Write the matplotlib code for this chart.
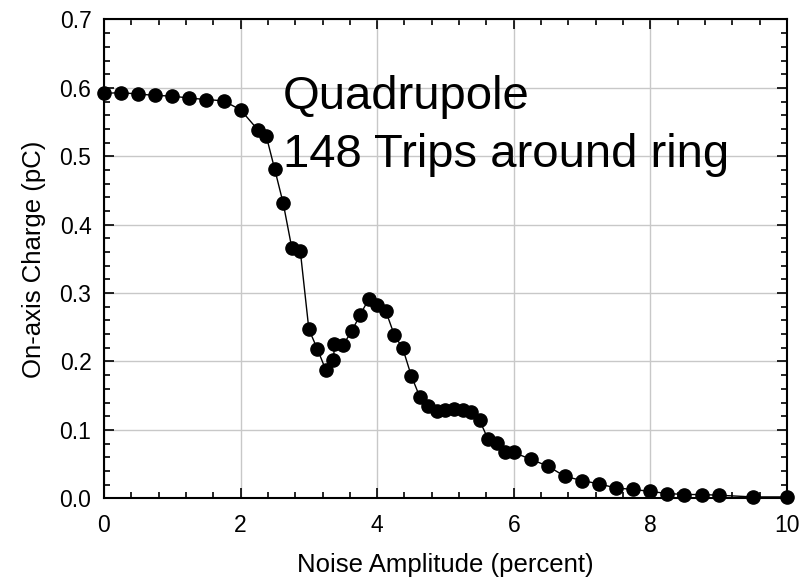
import matplotlib
matplotlib.use("Agg")
import matplotlib.pyplot as plt
from matplotlib.ticker import MultipleLocator

plt.rcParams['font.family'] = ['Liberation Sans', 'DejaVu Sans']

noise = [0.0, 0.25, 0.5, 0.75, 1.0, 1.25, 1.5, 1.75, 2.0,
         2.25, 2.375, 2.5, 2.625, 2.75, 2.875, 3.0, 3.125, 3.25, 3.36, 3.375,
         3.5, 3.625, 3.75, 3.875, 4.0, 4.125, 4.25, 4.375, 4.5, 4.625, 4.75,
         4.875, 5.0, 5.125, 5.25, 5.375, 5.5, 5.625, 5.75, 5.875, 6.0,
         6.25, 6.5, 6.75, 7.0, 7.25, 7.5, 7.75, 8.0, 8.25, 8.5, 8.75, 9.0,
         9.5, 10.0]
charge = [0.592, 0.593, 0.591, 0.589, 0.588, 0.585, 0.583, 0.581, 0.568,
          0.539, 0.530, 0.481, 0.431, 0.366, 0.361, 0.247, 0.218, 0.187, 0.202, 0.226,
          0.224, 0.244, 0.268, 0.291, 0.283, 0.274, 0.239, 0.219, 0.179, 0.148, 0.135,
          0.127, 0.129, 0.130, 0.129, 0.126, 0.114, 0.086, 0.081, 0.067, 0.067,
          0.057, 0.047, 0.032, 0.026, 0.021, 0.015, 0.013, 0.010, 0.007, 0.0055, 0.0055, 0.0045,
          0.002, 0.002]

fig = plt.figure(figsize=(8.03, 5.83), dpi=100)
ax = fig.add_axes([0.1295, 0.1453, 0.8505, 0.8213])

ax.plot(noise, charge, color='black', linewidth=1.0, marker='o',
        markersize=9.5, markerfacecolor='black', markeredgecolor='black',
        zorder=3, clip_on=False)

ax.set_xlim(0, 10)
ax.set_ylim(0, 0.7)
ax.xaxis.set_major_locator(MultipleLocator(2))
ax.xaxis.set_minor_locator(MultipleLocator(0.4))
ax.yaxis.set_major_locator(MultipleLocator(0.1))
ax.yaxis.set_minor_locator(MultipleLocator(0.02))
ax.yaxis.set_major_formatter(matplotlib.ticker.FormatStrFormatter('%.1f'))

ax.grid(True, which='major', color='#c8c8c8', linewidth=1.0)
ax.set_axisbelow(True)

ax.tick_params(which='both', direction='in', top=True, right=True,
               labelsize=16.5, width=1.2, colors='black')
ax.tick_params(which='major', length=7)
ax.tick_params(axis='x', which='major', pad=11)
ax.tick_params(axis='y', which='major', pad=9)
ax.tick_params(which='minor', length=4)
for s in ax.spines.values():
    s.set_linewidth(1.5)

ax.set_xlabel("Noise Amplitude (percent)", fontsize=18.5, labelpad=12)
ax.set_ylabel("On-axis Charge (pC)", fontsize=18.5, labelpad=10)

ax.text(2.62, 0.5685, "Quadrupole", fontsize=34, va='baseline', ha='left')
ax.text(2.62, 0.4836, "148 Trips around ring", fontsize=34, va='baseline', ha='left')

fig.savefig("out.png", dpi=100)
